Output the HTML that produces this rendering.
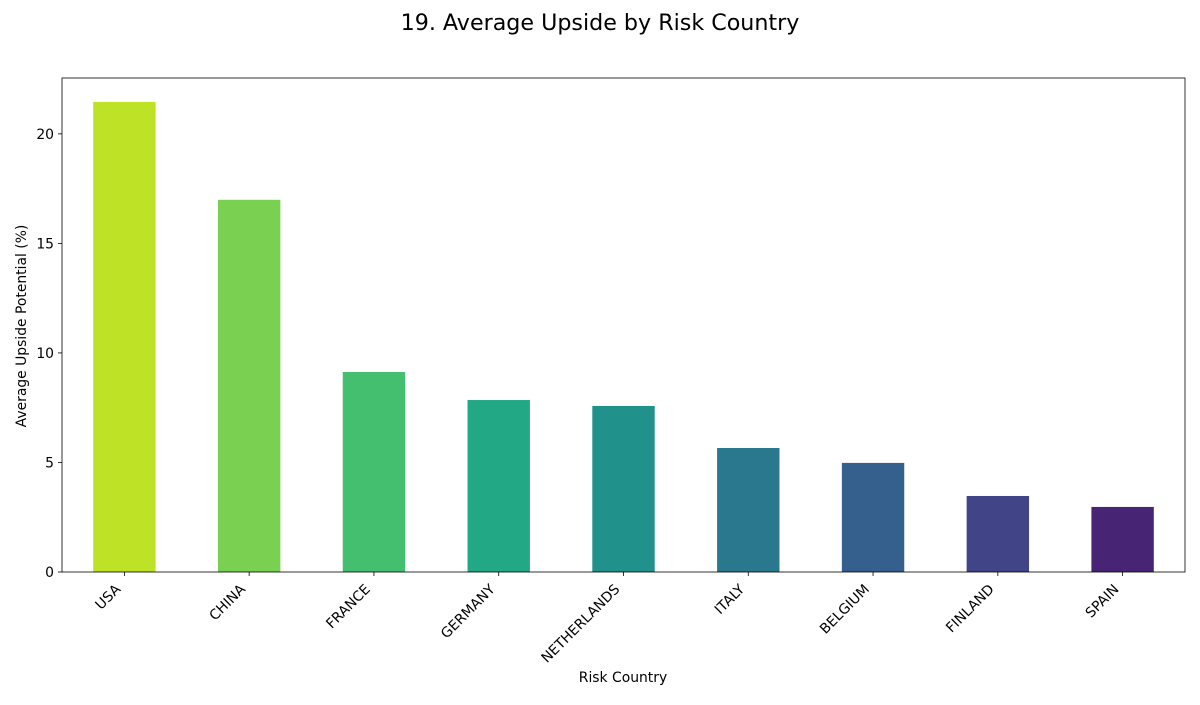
<!DOCTYPE html>
<html><head><meta charset="utf-8"><style>
body{margin:0;background:#fff;font-family:"Liberation Sans","DejaVu Sans",sans-serif;}
</style></head><body>
<svg id="chart" width="1200" height="700" xmlns="http://www.w3.org/2000/svg" font-family="DejaVu Sans, Liberation Sans, sans-serif"></svg>
<script>
const categories=["USA","CHINA","FRANCE","GERMANY","NETHERLANDS","ITALY","BELGIUM","FINLAND","SPAIN"];
const values=[21.46,16.99,9.13,7.85,7.58,5.66,4.98,3.47,2.97];
const colors=["#bde226","#7ad151","#44bf70","#22a884","#21918c","#2a788e","#355f8d","#414487","#482475"];
const yTicks=[0,5,10,15,20];
const L=62,R=1185,T=78,B=572;
const yMax=22.55;
const x=i=>L+(i+0.5)*(R-L)/categories.length;
const y=v=>B-v*(B-T)/yMax;
const bw=0.5*(R-L)/categories.length;
const svg=document.getElementById('chart');
const NS="http://www.w3.org/2000/svg";
function mk(tag,attrs,parent){const e=document.createElementNS(NS,tag);for(const k in attrs)e.setAttribute(k,attrs[k]);(parent||svg).appendChild(e);return e;}
let t=mk('text',{x:600,y:30,'text-anchor':'middle','font-size':22.2,fill:'#000'});t.textContent="19. Average Upside by Risk Country";


values.forEach((v,i)=>{
 const r=mk('rect',{x:x(i)-bw/2,y:y(v),width:bw,height:B-y(v),fill:colors[i]});
 
 
 const tk=mk('line',{x1:x(i),x2:x(i),y1:B,y2:B+4,stroke:'#000','stroke-width':0.8});
 
 
 const ax=x(i)-3, ay=B+18;
 const lb=mk('text',{x:ax,y:ay,'text-anchor':'end','font-size':13.9,fill:'#000',transform:`rotate(-45 ${ax} ${ay})`});
 lb.textContent=categories[i];
 
 
});
yTicks.forEach(v=>{
 const tk=mk('line',{x1:L-4,x2:L,y1:y(v),y2:y(v),stroke:'#000','stroke-width':0.8});
 
 
 const lb=mk('text',{x:L-8,y:y(v)+5,'text-anchor':'end','font-size':13.9,fill:'#000'});
 lb.textContent=v;
 
 
});
const fr=mk('rect',{x:L,y:T,width:R-L,height:B-T,fill:'none',stroke:'#000','stroke-width':0.8});


const xt=mk('text',{x:623,y:682,'text-anchor':'middle','font-size':13.9,fill:'#000'});xt.textContent="Risk Country";


const yt=mk('text',{x:26,y:326,'text-anchor':'middle','font-size':13.9,fill:'#000',transform:'rotate(-90 26 326)'});yt.textContent="Average Upside Potential (%)";


</script>
</body></html>
